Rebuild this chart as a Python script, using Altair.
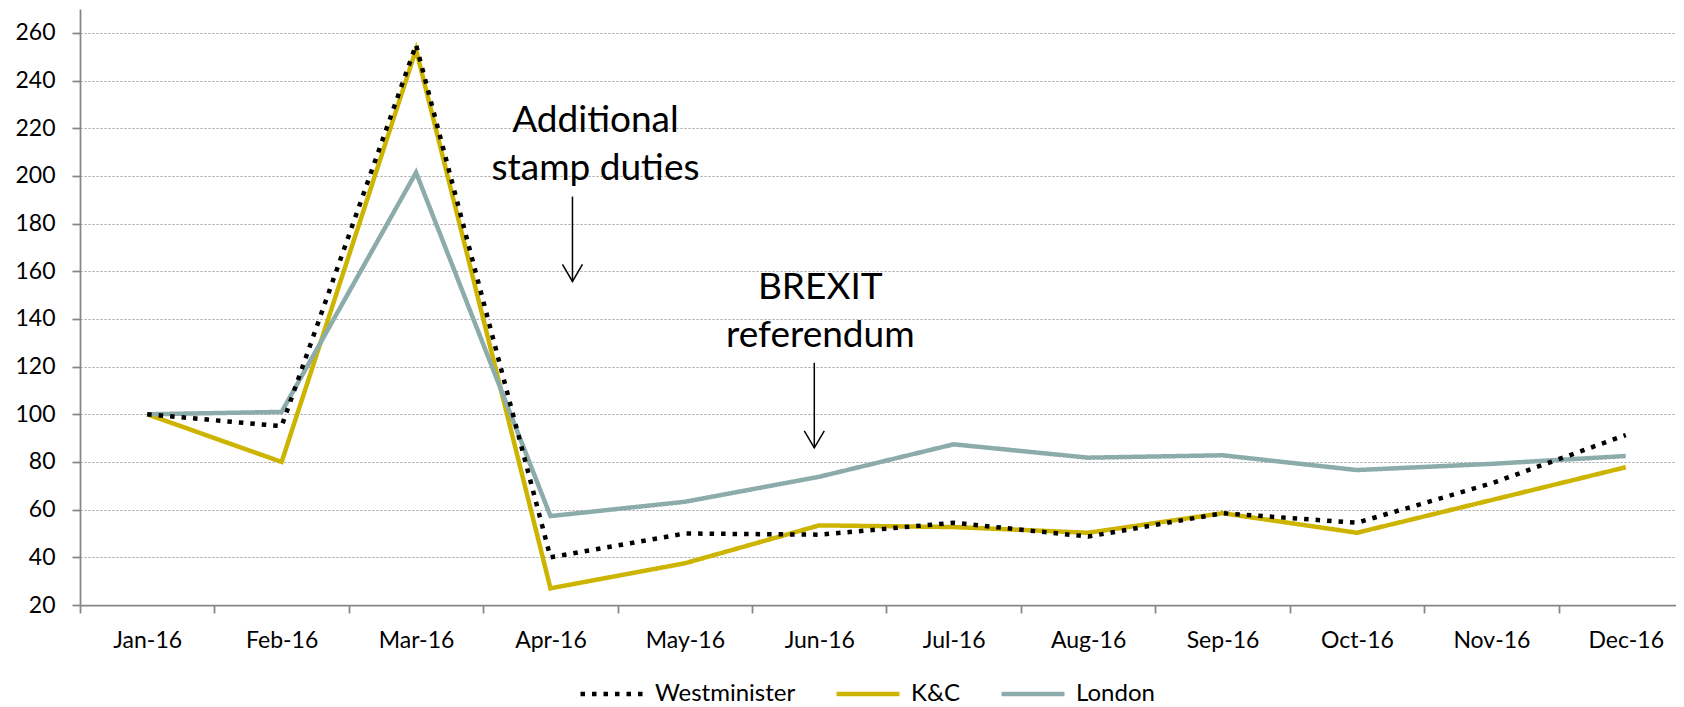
import altair as alt
import pandas as pd

months = ["Jan-16", "Feb-16", "Mar-16", "Apr-16", "May-16", "Jun-16",
          "Jul-16", "Aug-16", "Sep-16", "Oct-16", "Nov-16", "Dec-16"]
series_names = ["Westminister", "K&C", "London"]
westminster = [100, 95, 255, 40, 50, 49.5, 54.5, 48.7, 58.5, 54.5, 71, 91.3]
kc = [100, 80, 253, 27, 37.5, 53.4, 52.7, 50.3, 58.5, 50.3, 64, 77.8]
london = [100, 101, 201.4, 57.3, 63.3, 73.8, 87.4, 81.8, 82.8, 76.6, 79.2, 82.5]

colors = ["#000000", "#CCB400", "#8BACAA"]
dashes = [[4.5, 7], [1, 0], [1, 0]]
y_ticks = [20, 40, 60, 80, 100, 120, 140, 160, 180, 200, 220, 240, 260]

rows = []
for name, vals in [("K&C", kc), ("London", london), ("Westminister", westminster)]:
    for m, v in zip(months, vals):
        rows.append({"month": m, "series": name, "value": v})
df = pd.DataFrame(rows)

FONT = "Lato"
AXIS_COLOR = "#868686"

x_enc = alt.X(
    "month:N", sort=months,
    scale=alt.Scale(type="band", paddingInner=0, paddingOuter=0, range=[0, 1613]),
    axis=alt.Axis(title=None, labelAngle=0, labelPadding=16, labelFontSize=23,
                  labelFont=FONT, labelColor="#000000", tickBand="extent",
                  tickSize=8, tickColor=AXIS_COLOR, tickWidth=1.75,
                  domainColor=AXIS_COLOR, domainWidth=1.75, grid=False),
)
y_enc = alt.Y(
    "value:Q",
    scale=alt.Scale(domain=[20, 270], nice=False, zero=False),
    axis=alt.Axis(title=None, values=y_ticks, labelPadding=17, labelFontSize=23,
                  labelFont=FONT, labelColor="#000000", tickSize=8,
                  tickColor=AXIS_COLOR, tickWidth=1.75, domainColor=AXIS_COLOR,
                  domainWidth=1.75, grid=True, gridColor="#a0a0a0",
                  gridDash=[2, 2], gridWidth=1.2, minExtent=64, maxExtent=64),
)

legend = alt.Legend(title=None, orient="none", legendX=498, legendY=651,
                    direction="horizontal", columns=3, symbolType="stroke",
                    symbolSize=3969, symbolStrokeWidth=4.5, labelOffset=9,
                    columnPadding=31, labelFontSize=24, labelFont=FONT,
                    labelColor="#000000", padding=0)

lines = alt.Chart(df).mark_line(strokeWidth=4.5).encode(
    x=x_enc,
    y=y_enc,
    color=alt.Color("series:N", scale=alt.Scale(domain=series_names, range=colors), legend=legend),
    strokeDash=alt.StrokeDash("series:N", scale=alt.Scale(domain=series_names, range=dashes), legend=legend),
    detail="series:N",
)

# annotations
stamp_text = pd.DataFrame({"month": ["Apr-16", "Apr-16"], "value": [218.2, 198.3],
                           "label": ["Additional", "stamp duties"]})
brexit_text = pd.DataFrame({"month": ["Jun-16", "Jun-16"], "value": [148.4, 128.4],
                            "label": ["BREXIT", "referendum"]})
stamp_arrow = pd.DataFrame({"month": ["Apr-16"], "value": [191.3], "value2": [155.7]})
brexit_arrow = pd.DataFrame({"month": ["Jun-16"], "value": [121.6], "value2": [85.9]})


def text_layer(data, dx):
    return alt.Chart(data).mark_text(font=FONT, fontSize=37, color="#000000",
                                     align="center", baseline="alphabetic", dx=dx).encode(
        x=x_enc, y=y_enc, text="label:N")


def arrow_layers(data, off):
    shaft = alt.Chart(data).mark_rule(color="#000000", strokeWidth=1.5, xOffset=off).encode(
        x=x_enc, y=y_enc, y2="value2:Q")
    head = alt.Chart(data).mark_point(shape="M-1,-1.7L0,0L1,-1.7", size=400, filled=False,
                                      stroke="#000000", strokeWidth=1.5, opacity=1,
                                      xOffset=off).encode(
        x=x_enc, y=alt.Y("value2:Q"))
    return [shaft, head]


chart = alt.layer(
    lines,
    text_layer(stamp_text, 45),
    text_layer(brexit_text, 1),
    *arrow_layers(stamp_arrow, 22),
    *arrow_layers(brexit_arrow, -5),
).properties(
    width=1596, height=596,
    autosize=alt.AutoSizeParams(type="none"),
    padding={"left": 72, "top": 1, "right": 0, "bottom": 100},
).configure(background="white", font=FONT).configure_view(strokeWidth=0)

chart.save("out.html", embed_options={"renderer": "svg", "actions": False})
